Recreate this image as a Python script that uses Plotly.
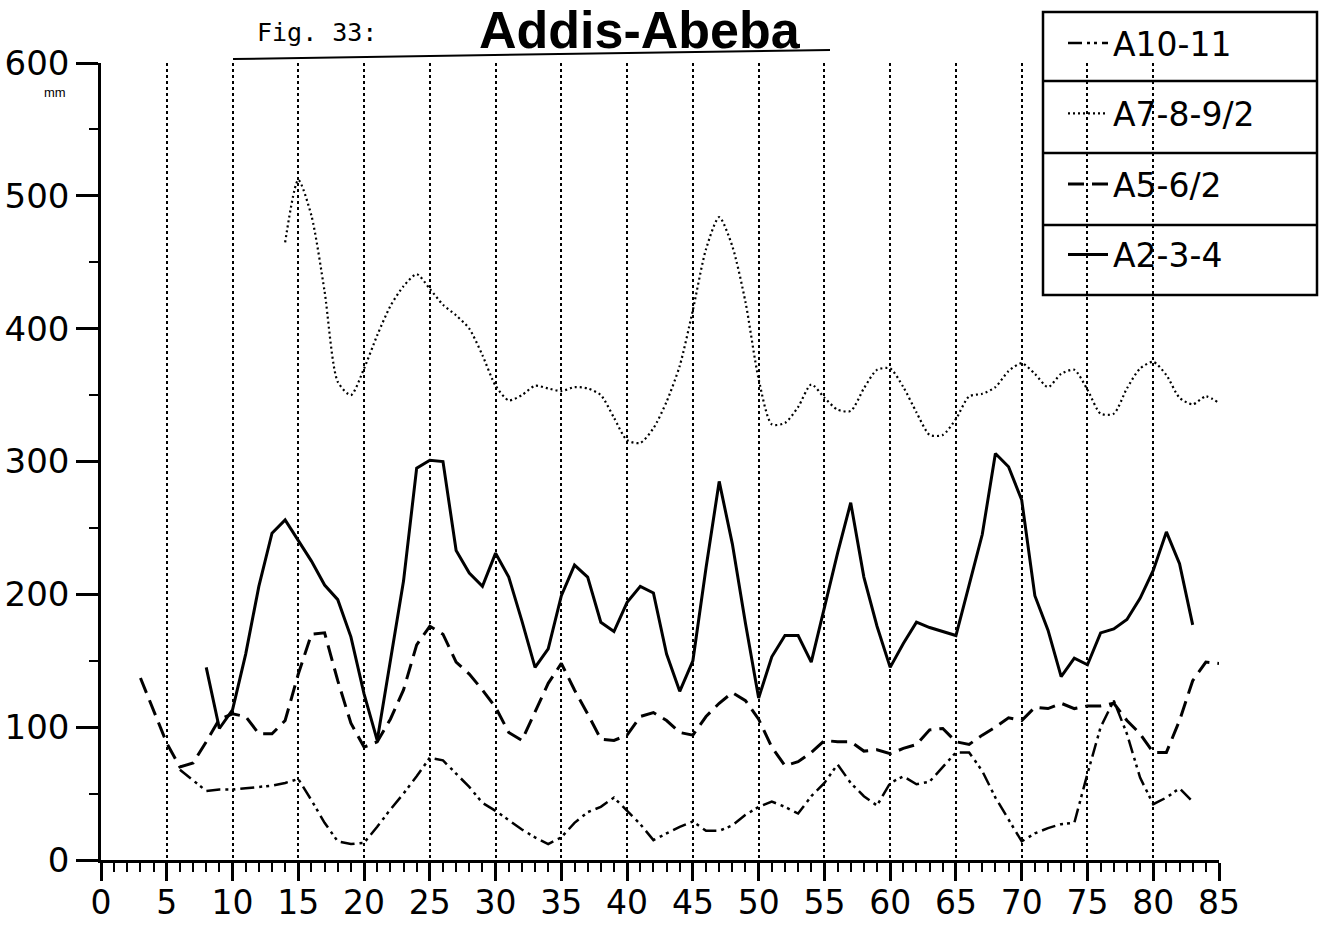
import plotly.graph_objects as go

# ---------------- data ----------------
years_solid = list(range(8, 84))
a2_3_4 = [145, 99, 113, 155, 206, 246, 256, 241, 225, 207,
          196, 168, 125, 90, 150, 210, 295, 301, 300, 233,
          216, 206, 231, 213, 180, 145, 159, 199, 222, 213,
          179, 172, 194, 206, 201, 155, 127, 150, 220, 285,
          238, 178, 122, 153, 169, 169, 149, 191, 231, 269,
          213, 176, 145, 163, 179, 175, 172, 169, 207, 245,
          306, 296, 271, 199, 173, 138, 152, 147, 171, 174,
          181, 197, 218, 247, 223, 177]

years_dashed = list(range(3, 86))
a5_6_2 = [137, 113, 88, 70, 73, 89, 106, 110, 108, 95,
          95, 105, 140, 170, 171, 135, 103, 85, 89, 106,
          128, 162, 176, 170, 149, 140, 128, 115, 96, 90,
          111, 133, 148, 128, 110, 91, 90, 94, 108, 111,
          105, 96, 94, 108, 118, 126, 120, 106, 85, 71,
          74, 81, 90, 89, 89, 82, 83, 80, 84, 87,
          98, 99, 89, 87, 94, 100, 107, 105, 115, 114,
          118, 114, 116, 116, 118, 105, 95, 81, 81, 105,
          135, 149, 148]

years_dotted = list(range(14, 86))
a7_8_9_2 = [465, 512, 485, 428, 360, 350, 370, 395, 417, 432,
            441, 430, 418, 410, 400, 380, 357, 346, 350, 357,
            355, 353, 356, 355, 350, 333, 316, 314, 325, 345,
            372, 414, 460, 484, 462, 420, 362, 328, 329, 341,
            358, 348, 339, 338, 355, 369, 370, 356, 337, 320,
            320, 332, 349, 351, 356, 368, 374, 366, 356, 366,
            369, 354, 336, 336, 355, 370, 375, 365, 348, 343,
            349, 344]

years_dashdot = list(range(6, 84))
a10_11 = [68, 60, 52, 53, 53, 54, 55, 56, 58, 61,
          45, 28, 14, 12, 13, 25, 38, 50, 63, 77,
          75, 65, 55, 43, 37, 30, 23, 17, 12, 17,
          28, 36, 40, 47, 37, 27, 15, 20, 25, 29,
          22, 22, 26, 34, 40, 44, 40, 35, 48, 58,
          72, 58, 48, 41, 58, 63, 57, 59, 70, 81,
          81, 67, 47, 31, 14, 20, 24, 27, 28, 65,
          100, 120, 95, 62, 42, 47, 54, 44]

x_ticks = list(range(0, 86, 5))
y_ticks = [0, 100, 200, 300, 400, 500, 600]

# ---------------- figure ----------------
W, H = 1327, 925
L, R, T, B = 101, 1219, 63, 860   # plot area in px

def px2paper_x(px):
    return (px - L) / (R - L)

def px2paper_y(py):
    return (B - py) / (B - T)

fig = go.Figure()

fig.add_trace(go.Scatter(
    x=years_dashdot, y=a10_11, mode="lines", name="A10-11",
    legendgroup="g1",
    line=dict(color="black", width=2.5, dash="14px,5px,3px,4px,3px,5px")))
fig.add_trace(go.Scatter(
    x=years_dotted, y=a7_8_9_2, mode="lines", name="A7-8-9/2",
    legendgroup="g2", line_shape="spline",
    line=dict(color="black", width=2.2, dash="2px,3px", smoothing=0.7)))
fig.add_trace(go.Scatter(
    x=years_dashed, y=a5_6_2, mode="lines", name="A5-6/2",
    legendgroup="g3",
    line=dict(color="black", width=3, dash="16px,8px")))
fig.add_trace(go.Scatter(
    x=years_solid, y=a2_3_4, mode="lines", name="A2-3-4",
    legendgroup="g4",
    line=dict(color="black", width=3)))

font_fam = "DejaVu Sans, Liberation Sans, Arial, sans-serif"

fig.update_layout(
    width=W, height=H,
    margin=dict(l=L, r=W - R, t=T, b=H - B, pad=0, autoexpand=False),
    paper_bgcolor="white", plot_bgcolor="white",
    font=dict(family=font_fam, color="black", size=34),
    showlegend=True,
    legend=dict(
        x=px2paper_x(1063), y=px2paper_y(15),
        xanchor="left", yanchor="top",
        bgcolor="rgba(0,0,0,0)", borderwidth=0,
        traceorder="grouped", tracegroupgap=24.6,
        itemwidth=40,
        font=dict(family=font_fam, size=33, color="black"),
    ),
    xaxis=dict(
        range=[0, 85], tickmode="array", tickvals=x_ticks,
        ticktext=[str(v) for v in x_ticks],
        automargin=False,
        showline=True, linecolor="black", linewidth=2.5,
        ticks="outside", ticklen=18, tickwidth=2.5, tickcolor="black",
        ticklabelstandoff=-6,
        showgrid=True, gridcolor="black", gridwidth=2, griddash="dot",
        zeroline=False,
        minor=dict(dtick=1, ticks="outside", ticklen=9, tickwidth=2,
                   tickcolor="black", showgrid=False),
        tickfont=dict(family=font_fam, size=33, color="black"),
    ),
    yaxis=dict(
        range=[0, 600], tickmode="array", tickvals=y_ticks,
        ticktext=[str(v) for v in y_ticks],
        automargin=False,
        showline=True, linecolor="black", linewidth=2.5,
        ticks="outside", ticklen=22, tickwidth=2.5, tickcolor="black",
        showgrid=False, zeroline=False,
        minor=dict(dtick=50, ticks="outside", ticklen=9, tickwidth=2,
                   tickcolor="black", showgrid=False),
        tickfont=dict(family=font_fam, size=34, color="black"),
    ),
)

# title, figure label, unit
fig.add_annotation(text="<b>Addis-Abeba</b>", xref="paper", yref="paper",
                   x=px2paper_x(640), y=px2paper_y(30), showarrow=False,
                   xanchor="center", yanchor="middle",
                   font=dict(family="Liberation Sans, Arial, sans-serif", size=52, color="black"))
fig.add_annotation(text="Fig. 33:", xref="paper", yref="paper",
                   x=px2paper_x(317), y=px2paper_y(32), showarrow=False,
                   xanchor="center", yanchor="middle",
                   font=dict(family="DejaVu Sans Mono, monospace", size=25, color="black"))
fig.add_annotation(text="mm", xref="paper", yref="paper",
                   x=px2paper_x(55), y=px2paper_y(92), showarrow=False,
                   xanchor="center", yanchor="middle",
                   font=dict(family="Liberation Sans, Arial, sans-serif", size=13, color="black"))

# underline under the title
fig.add_shape(type="line", xref="paper", yref="paper",
              x0=px2paper_x(233), y0=px2paper_y(59),
              x1=px2paper_x(830), y1=px2paper_y(50),
              line=dict(color="black", width=2))

# legend frame with row separators
lx0, lx1, ly0, ly1 = 1043, 1317, 12, 295
fig.add_shape(type="rect", xref="paper", yref="paper",
              x0=px2paper_x(lx0), x1=px2paper_x(lx1),
              y0=px2paper_y(ly1), y1=px2paper_y(ly0),
              line=dict(color="black", width=2.5), fillcolor="rgba(0,0,0,0)")
for sy in [81, 153, 225]:
    fig.add_shape(type="line", xref="paper", yref="paper",
                  x0=px2paper_x(lx0), x1=px2paper_x(lx1),
                  y0=px2paper_y(sy), y1=px2paper_y(sy),
                  line=dict(color="black", width=2.5))

fig.write_html("out.html",
               config={"displayModeBar": False},
               post_script="document.body.style.margin='0';document.body.style.overflow='hidden';")
